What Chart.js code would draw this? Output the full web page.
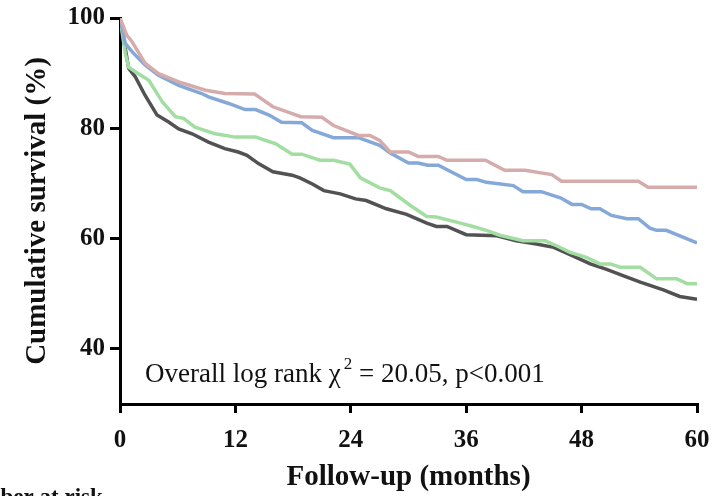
<!DOCTYPE html>
<html lang="en">
<head>
  <meta charset="UTF-8">
  <title>Cumulative survival</title>
  <script src="https://cdn.jsdelivr.net/npm/chart.js"></script>
  <style>
    * { margin: 0; padding: 0; box-sizing: border-box; }
    body { background: #fff; width: 718px; height: 496px; overflow: hidden; }
    canvas { display: block; }
  </style>
</head>
<body>
  <canvas id="kmChart" width="718" height="496"></canvas>

<script>
  // months and survival (%)
  const xTicks = [0, 12, 24, 36, 48, 60];
  const yTicks = [40, 60, 80, 100];

  const pinkMonths = [0, 0.7, 1.25, 2.6, 4.0, 6.1, 8.9, 10.9, 14.0, 15.9, 18.8, 21.0, 22.2, 24.8, 26.0, 27.0, 28.1, 30.0, 31.0, 33.1, 34.0, 38.0, 40.0, 42.1, 44.9, 45.9, 53.9, 54.9, 60];
  const pinkSurv   = [100, 96.9, 95.7, 91.8, 89.9, 88.4, 86.9, 86.3, 86.2, 83.9, 82.1, 82.0, 80.5, 78.7, 78.7, 77.8, 75.7, 75.7, 74.9, 74.9, 74.2, 74.2, 72.4, 72.4, 71.6, 70.4, 70.4, 69.3, 69.3];

  const blueMonths = [0, 0.55, 1.25, 2.6, 4.0, 6.1, 8.5, 9.2, 11.3, 13.0, 14.1, 15.5, 16.8, 18.9, 20.0, 22.2, 24.8, 27.0, 28.1, 30.0, 31.0, 32.0, 33.1, 36.0, 37.1, 38.1, 40.9, 41.9, 43.8, 45.8, 47.0, 48.0, 49.0, 49.9, 51.1, 52.7, 53.9, 55.1, 55.8, 56.8, 60];
  const blueSurv   = [100, 95.4, 93.9, 91.5, 89.6, 87.8, 86.3, 85.7, 84.5, 83.4, 83.4, 82.4, 81.1, 81.0, 79.6, 78.3, 78.3, 76.9, 75.5, 73.7, 73.7, 73.3, 73.3, 70.7, 70.7, 70.2, 69.6, 68.5, 68.5, 67.4, 66.2, 66.2, 65.4, 65.4, 64.2, 63.6, 63.6, 61.9, 61.5, 61.5, 59.2];

  const greenMonths = [0, 0.55, 0.9, 1.9, 3.0, 4.4, 5.75, 6.6, 7.8, 9.9, 12.0, 14.1, 16.2, 17.9, 18.9, 20.8, 22.2, 23.9, 25.0, 27.0, 28.1, 30.2, 31.9, 32.9, 35.4, 36.7, 38.1, 39.5, 41.9, 44.2, 45.4, 46.8, 48.5, 49.9, 51.0, 52.0, 54.1, 55.8, 57.9, 59.0, 60];
  const greenSurv   = [100, 93.6, 91.1, 89.9, 88.7, 84.8, 82.1, 81.8, 80.2, 79.0, 78.4, 78.4, 77.2, 75.3, 75.3, 74.2, 74.2, 73.5, 71.0, 69.2, 68.7, 66.0, 64.0, 63.9, 62.8, 62.2, 61.5, 60.6, 59.6, 59.6, 58.7, 57.5, 56.6, 55.4, 55.4, 54.8, 54.8, 52.7, 52.7, 51.8, 51.8];

  const darkMonths = [0, 0.9, 1.6, 2.6, 3.85, 5.1, 6.1, 7.5, 9.2, 10.9, 12.3, 13.2, 14.4, 15.9, 17.9, 18.7, 20.0, 21.2, 22.9, 24.5, 25.6, 27.7, 29.8, 31.9, 32.9, 34.0, 36.0, 39.2, 41.2, 43.3, 45.1, 46.8, 48.9, 50.6, 52.3, 54.1, 56.5, 58.2, 60];
  const darkSurv   = [100, 90.9, 89.3, 86.0, 82.4, 81.1, 79.9, 79.0, 77.5, 76.3, 75.7, 75.1, 73.6, 72.1, 71.5, 71.0, 69.9, 68.7, 68.1, 67.2, 66.9, 65.4, 64.4, 62.8, 62.2, 62.2, 60.7, 60.5, 59.6, 59.0, 58.4, 57.1, 55.4, 54.4, 53.3, 52.1, 50.7, 49.5, 49.0];

  const toPoints = (xs, ys) => xs.map((x, i) => ({ x: x, y: ys[i] }));

  const serif = '"Liberation Serif", "Times New Roman", serif';

  // log rank note with superscript, plus the cut-off "Number at risk" header
  const notes = {
    id: 'notes',
    afterDatasetsDraw(chart) {
      const ctx = chart.ctx;
      ctx.save();
      ctx.fillStyle = '#111';
      ctx.textBaseline = 'alphabetic';
      ctx.textAlign = 'left';
      let x = 145, y = 382;
      ctx.font = '27px ' + serif;
      const a = 'Overall log rank \u03C7';
      ctx.fillText(a, x, y);
      x += ctx.measureText(a).width + 3;
      ctx.font = '17px ' + serif;
      ctx.fillText('2', x, y - 13);
      x += ctx.measureText('2').width;
      ctx.font = '27px ' + serif;
      ctx.fillText(' = 20.05, p<0.001', x, y);

      ctx.font = 'bold 23px ' + serif;
      ctx.fillText('Number at risk', -48, 504);
      ctx.restore();
    }
  };

  const lineStyle = color => ({
    borderColor: color,
    backgroundColor: color,
    borderWidth: 3.5,
    pointRadius: 0,
    tension: 0,
    fill: false
  });

  new Chart(document.getElementById('kmChart'), {
    type: 'line',
    data: {
      datasets: [
        Object.assign({ label: 'Group 1', data: toPoints(pinkMonths, pinkSurv) }, lineStyle('#d6abab')),
        Object.assign({ label: 'Group 2', data: toPoints(blueMonths, blueSurv) }, lineStyle('#84a8d8')),
        Object.assign({ label: 'Group 3', data: toPoints(greenMonths, greenSurv) }, lineStyle('#a2dda2')),
        Object.assign({ label: 'Group 4', data: toPoints(darkMonths, darkSurv) }, lineStyle('#525252'))
      ]
    },
    options: {
      responsive: false,
      animation: false,
      layout: { padding: { top: 18, right: 21, left: 0, bottom: 0 } },
      plugins: {
        legend: { display: false },
        tooltip: { enabled: false }
      },
      scales: {
        x: {
          type: 'linear',
          min: 0,
          max: 60,
          afterBuildTicks: s => { s.ticks = xTicks.map(v => ({ value: v })); },
          afterFit: s => { s.height = 92; s.paddingLeft = 0; s.paddingRight = 0; },
          ticks: {
            color: '#111',
            padding: 13,
            maxRotation: 0,
            font: { family: serif, size: 25, weight: 'bold' }
          },
          grid: { drawOnChartArea: false, drawTicks: true, tickLength: 9, color: '#000', lineWidth: 3 },
          border: { display: true, color: '#000', width: 3 },
          title: {
            display: true,
            text: 'Follow-up (months)',
            color: '#111',
            padding: { top: 0, bottom: 1 },
            font: { family: serif, size: 29, weight: 'bold' }
          }
        },
        y: {
          min: 30,
          max: 100,
          afterBuildTicks: s => { s.ticks = yTicks.map(v => ({ value: v })); },
          afterFit: s => { s.width = 120; s.paddingTop = 0; s.paddingBottom = 0; },
          ticks: {
            color: '#111',
            padding: 5,
            font: { family: serif, size: 25, weight: 'bold' }
          },
          grid: { drawOnChartArea: false, drawTicks: true, tickLength: 10, color: '#000', lineWidth: 3 },
          border: { display: true, color: '#000', width: 3 },
          title: {
            display: true,
            text: 'Cumulative survival (%)',
            color: '#111',
            padding: { top: 20, bottom: 0 },
            font: { family: serif, size: 29, weight: 'bold' }
          }
        }
      }
    },
    plugins: [notes]
  });
</script>
</body>
</html>
